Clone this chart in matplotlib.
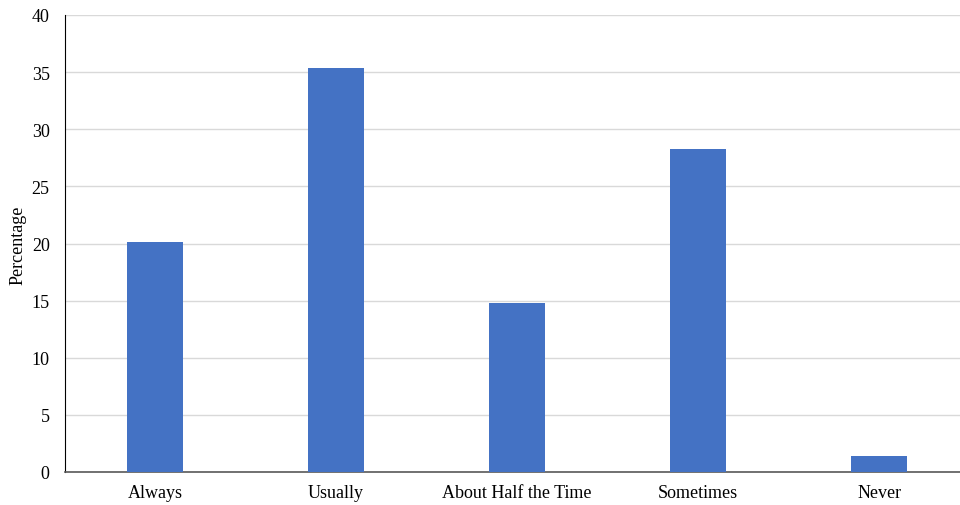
import numpy as np
import matplotlib.pyplot as plt

plt.rcParams['font.family'] = ['Liberation Serif', 'DejaVu Serif']

categories = ["Always", "Usually", "About Half the Time", "Sometimes", "Never"]
percentages = [20.1, 35.4, 14.8, 28.3, 1.4]

fig = plt.figure(figsize=(9.6, 5.06), dpi=100)
ax = fig.add_axes([65 / 960, 33 / 506, 895 / 960, 457 / 506])

x = np.arange(len(categories))
ax.bar(x, percentages, width=0.31, color="#4472C4", zorder=3)

ax.set_xlim(-0.497, 4.447)
ax.set_ylim(0, 40)
ax.set_yticks(np.arange(0, 41, 5))
ax.set_xticks(x)
ax.set_xticklabels(categories, fontsize=13)
ax.tick_params(axis='y', labelsize=13, length=0, pad=11)
ax.tick_params(axis='x', length=0, pad=9)
ax.grid(axis='y', color="#d9d9d9", linewidth=1, zorder=0)

ax.spines['top'].set_visible(False)
ax.spines['right'].set_visible(False)
ax.spines['left'].set_color("black")
ax.spines['bottom'].set_color("#595959")
ax.spines['bottom'].set_linewidth(1.2)

fig.text(18 / 960, 1 - 245 / 506, "Percentage", rotation=90, va='center', ha='center', fontsize=13)

fig.savefig("out.png", dpi=100)
